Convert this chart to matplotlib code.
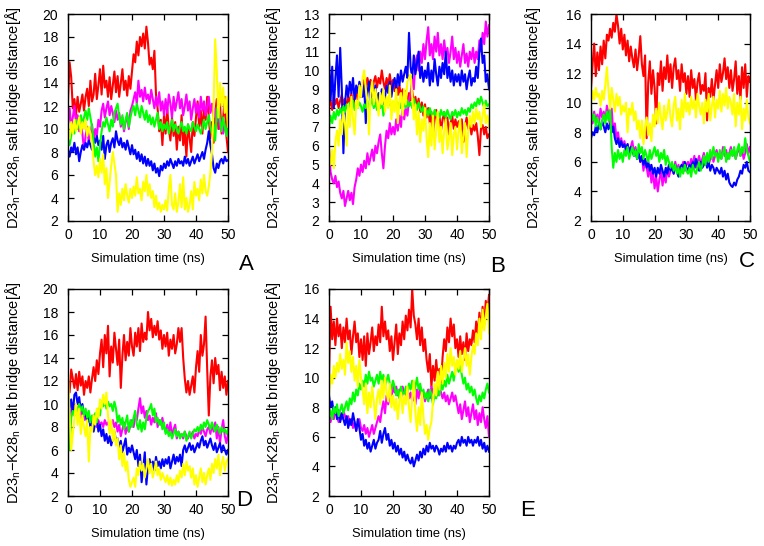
import matplotlib
matplotlib.use("Agg")
import matplotlib.pyplot as plt
import numpy as np

plt.rcParams["font.family"] = ["Liberation Sans", "DejaVu Sans"]
plt.rcParams["mathtext.fontset"] = "custom"
plt.rcParams["mathtext.rm"] = "Liberation Sans"

# Distance series, sampled every 0.5 ns over 0-50 ns

A_RED = [12.5, 15.8, 14.5, 11.8, 12.6, 11.2, 12.8, 11.5, 12.2, 13.0, 11.6,
         12.8, 13.5, 12.0, 14.2, 12.4, 13.0, 14.8, 12.6, 13.8, 15.2,
         13.0, 15.5, 13.6, 14.2, 12.8, 14.5, 12.6, 13.8, 15.0, 13.2,
         14.6, 12.8, 14.0, 15.2, 13.4, 14.2, 12.9, 14.6, 13.5, 15.0,
         16.5, 15.8, 17.6, 16.4, 18.0, 17.2, 18.3, 17.0, 18.9, 17.5,
         15.6, 16.2, 15.2, 16.8, 13.0, 11.8, 9.8, 10.8, 8.6, 11.2,
         9.6, 11.8, 10.0, 9.0, 11.0, 9.4, 10.6, 8.2, 10.2, 9.0,
         11.2, 8.6, 9.8, 7.6, 10.4, 9.2, 8.0, 10.6, 9.4, 11.0,
         12.4, 10.2, 11.6, 9.6, 12.0, 10.8, 12.8, 11.0, 9.2, 10.6,
         8.8, 11.4, 12.6, 10.0, 12.2, 9.6, 11.0, 12.8, 9.4, 8.0]
A_MAGENTA = [10.5, 11.8, 10.2, 11.0, 12.0, 10.4, 11.2, 9.8, 10.6, 9.6, 8.2,
             9.4, 10.2, 8.8, 9.6, 10.4, 9.0, 10.0, 9.4, 10.8, 10.2,
             11.6, 12.2, 11.0, 11.8, 12.4, 11.2, 12.0, 11.4, 10.6, 11.6,
             10.8, 11.4, 10.2, 11.0, 9.8, 10.6, 11.2, 10.0, 11.6, 12.0,
             12.6, 13.2, 12.2, 14.2, 12.8, 13.4, 12.4, 13.6, 12.6, 13.0,
             12.2, 13.4, 12.6, 11.8, 12.8, 12.0, 13.2, 11.6, 12.4, 11.2,
             12.6, 11.4, 13.0, 12.2, 11.0, 12.8, 11.6, 12.4, 13.2, 11.8,
             12.6, 11.2, 12.0, 13.0, 11.6, 12.4, 10.8, 11.8, 12.6, 11.4,
             12.2, 11.0, 12.8, 11.6, 12.4, 11.2, 12.0, 12.8, 11.4, 12.2,
             11.0, 11.8, 10.6, 11.4, 10.0, 10.8, 9.6, 10.4, 9.8, 10.2]
A_GREEN = [9.0, 8.6, 9.4, 10.2, 9.6, 10.8, 10.0, 10.6, 11.2, 10.4, 11.0,
           11.6, 10.8, 11.8, 11.0, 10.2, 8.8, 7.6, 8.4, 7.2, 8.6,
           9.8, 10.6, 10.2, 11.0, 10.4, 9.8, 10.8, 10.2, 11.4, 11.8,
           12.2, 11.0, 10.4, 11.2, 10.0, 10.8, 11.4, 10.2, 11.0, 11.6,
           12.0, 11.2, 12.2, 11.6, 11.0, 12.0, 11.4, 10.8, 11.6, 10.6,
           11.2, 10.4, 11.0, 10.2, 10.8, 11.4, 10.0, 10.6, 9.8, 10.4,
           10.0, 10.6, 9.6, 10.2, 10.8, 9.8, 10.4, 10.0, 9.6, 10.2,
           10.6, 9.8, 10.2, 9.6, 10.4, 10.0, 9.8, 10.6, 10.2, 9.8,
           10.4, 10.0, 9.6, 10.2, 10.8, 10.0, 10.6, 11.2, 10.2, 9.6,
           10.4, 9.0, 11.6, 12.2, 10.8, 9.8, 11.0, 10.2, 9.4, 10.6]
A_BLUE = [8.2, 7.6, 8.4, 8.0, 8.8, 7.8, 8.4, 7.2, 8.0, 8.6, 8.2,
          8.8, 8.4, 9.0, 8.6, 8.2, 9.2, 8.8, 9.4, 8.6, 9.0,
          8.2, 9.4, 7.4, 8.6, 9.0, 8.0, 8.8, 9.2, 8.4, 9.8,
          9.0, 8.6, 9.2, 8.4, 8.8, 8.2, 9.0, 8.4, 7.8, 8.6,
          7.8, 8.2, 7.4, 8.0, 7.2, 7.8, 7.0, 7.6, 6.8, 7.4,
          6.8, 7.2, 6.4, 7.0, 6.2, 6.6, 5.9, 6.8, 6.4, 7.0,
          6.6, 7.2, 6.8, 7.4, 7.0, 6.6, 7.2, 6.8, 7.4, 7.0,
          7.2, 6.8, 7.6, 7.0, 7.4, 6.8, 7.2, 7.6, 7.0, 7.4,
          7.8, 7.2, 7.6, 8.0, 7.4, 8.2, 8.8, 9.8, 8.6, 7.8,
          6.6, 6.2, 7.0, 6.6, 7.2, 7.4, 7.0, 7.6, 7.2, 7.3]
A_YELLOW = [10.0, 9.2, 10.6, 9.6, 10.8, 9.8, 10.4, 11.0, 9.6, 10.6, 10.0,
            10.8, 9.4, 10.2, 9.6, 8.8, 7.2, 6.0, 6.8, 5.8, 7.4,
            6.2, 7.8, 5.2, 6.6, 4.0, 5.4, 6.8, 8.0, 7.0, 6.0,
            2.8, 4.4, 3.4, 4.8, 3.8, 5.2, 4.2, 3.6, 4.8, 4.0,
            5.0, 4.2, 5.8, 4.4, 4.8, 3.8, 5.4, 4.6, 6.0, 4.2,
            5.2, 4.0, 4.6, 3.2, 4.2, 3.0, 3.6, 2.8, 3.4, 3.0,
            3.8, 2.9, 4.8, 6.0, 3.4, 3.0, 4.4, 2.8, 3.6, 5.2,
            3.2, 5.8, 3.0, 4.0, 2.8, 3.4, 4.6, 3.0, 5.4, 4.2,
            4.8, 3.8, 5.6, 4.4, 6.0, 4.6, 4.2, 5.0, 6.2, 8.0,
            12.0, 17.8, 15.0, 11.0, 14.0, 12.0, 13.6, 11.4, 12.8, 10.2]

B_RED = [8.1, 8.4, 7.9, 8.6, 8.2, 8.5, 8.0, 8.4, 8.7, 8.2, 8.5,
         8.0, 8.6, 8.3, 8.8, 8.1, 8.5, 8.9, 8.4, 9.0, 8.6,
         9.2, 9.5, 8.9, 9.6, 9.2, 9.5, 8.8, 9.4, 9.7, 9.1,
         9.6, 9.3, 10.0, 9.4, 9.0, 9.6, 9.2, 9.8, 9.1, 9.5,
         8.9, 9.3, 8.7, 9.2, 8.6, 9.0, 8.4, 8.9, 8.2, 8.8,
         8.4, 8.9, 8.1, 8.6, 8.0, 8.5, 7.8, 8.3, 7.6, 8.2,
         7.5, 8.0, 7.2, 7.8, 6.6, 7.4, 7.9, 7.1, 7.6, 6.8,
         7.4, 7.8, 7.0, 7.5, 6.6, 7.2, 7.6, 6.9, 7.4, 7.0,
         7.3, 6.8, 7.4, 6.2, 7.0, 7.5, 6.9, 7.2, 6.6, 7.1,
         6.8, 7.2, 6.5, 5.5, 6.9, 7.1, 6.6, 7.0, 6.4, 6.6]
B_MAGENTA = [5.8, 4.6, 4.2, 4.0, 4.4, 3.8, 4.1, 3.5, 3.2, 3.6, 2.8,
             3.2, 3.6, 3.1, 3.5, 2.9, 3.8, 4.2, 4.8, 4.4, 5.0,
             4.6, 5.2, 4.8, 5.6, 5.0, 5.4, 5.8, 5.2, 6.0, 5.6,
             6.2, 6.6, 5.6, 4.8, 6.0, 6.8, 6.4, 7.2, 6.6, 7.0,
             6.6, 7.4, 6.8, 7.6, 7.0, 8.2, 7.4, 8.0, 7.6, 8.4,
             8.8, 9.6, 9.0, 10.4, 10.8, 10.0, 11.0, 10.4, 11.4, 10.6,
             11.6, 12.3, 10.8, 11.4, 10.6, 11.8, 11.0, 12.0, 10.8, 11.4,
             10.6, 11.6, 10.8, 11.2, 10.4, 11.0, 11.8, 10.6, 11.2, 10.4,
             11.0, 10.2, 10.8, 11.4, 10.4, 10.9, 10.2, 11.0, 10.6, 11.2,
             10.4, 11.0, 10.6, 11.6, 11.0, 12.0, 11.4, 12.6, 11.8, 12.4]
B_GREEN = [7.0, 7.6, 7.2, 7.8, 7.4, 7.9, 7.6, 8.0, 7.7, 8.1, 7.8,
           8.2, 7.9, 8.3, 8.0, 8.4, 7.9, 8.2, 8.0, 8.3, 8.1,
           7.8, 8.2, 8.0, 8.4, 7.9, 8.2, 8.5, 8.0, 8.3, 7.9,
           8.2, 8.0, 8.4, 7.6, 8.2, 8.5, 8.1, 8.4, 8.0, 8.3,
           8.1, 8.4, 7.9, 8.3, 8.0, 8.5, 8.2, 8.0, 8.4, 8.1,
           8.3, 8.0, 8.5, 8.2, 7.9, 8.3, 8.0, 7.8, 8.1, 7.7,
           7.9, 7.6, 8.0, 7.7, 7.5, 7.9, 7.6, 7.8, 7.5, 7.9,
           7.6, 7.8, 7.5, 7.9, 7.6, 7.4, 7.8, 7.6, 7.9, 7.5,
           7.8, 7.6, 8.0, 7.7, 7.9, 7.6, 8.0, 7.8, 8.2, 8.0,
           8.3, 8.1, 8.5, 8.2, 8.6, 8.3, 8.0, 8.4, 8.1, 8.2]
B_BLUE = [10.6, 8.4, 10.2, 8.0, 9.6, 10.8, 8.6, 11.2, 9.0, 5.6, 8.2,
          9.2, 8.6, 9.4, 8.8, 9.6, 8.4, 9.2, 8.8, 9.4, 9.0,
          8.6, 9.2, 7.2, 8.8, 9.4, 8.4, 9.0, 8.6, 9.2, 8.2,
          8.8, 8.4, 9.0, 8.2, 8.6, 9.2, 8.8, 9.4, 8.6, 9.2,
          9.6, 9.0, 9.8, 9.2, 10.0, 9.4, 9.8, 10.2, 9.6, 12.0,
          10.2, 9.6, 10.8, 9.8, 10.4, 11.0, 9.6, 10.2, 9.4, 10.0,
          9.6, 10.4, 9.2, 10.0, 9.4, 10.6, 9.8, 9.2, 10.2, 9.6,
          10.4, 9.8, 11.0, 9.6, 10.2, 9.4, 10.0, 9.2, 9.8, 9.4,
          9.8, 9.2, 10.0, 9.4, 9.8, 9.0, 9.6, 10.0, 9.2, 9.6,
          9.4, 10.2, 9.6, 11.0, 11.7, 10.4, 10.8, 9.4, 9.8, 9.0]
B_YELLOW = [5.4, 5.0, 5.8, 4.8, 6.2, 6.8, 6.0, 7.4, 6.6, 7.8, 7.2,
            6.0, 8.2, 7.0, 8.6, 7.4, 6.6, 8.4, 8.0, 9.2, 8.6,
            9.6, 10.0, 9.0, 8.4, 6.6, 8.8, 9.4, 8.2, 9.0, 8.4,
            7.6, 8.8, 8.2, 9.0, 7.8, 8.6, 8.0, 9.2, 7.4, 8.4,
            7.8, 9.0, 7.2, 8.4, 8.8, 7.6, 9.0, 8.2, 9.4, 9.6,
            9.8, 8.6, 7.4, 8.2, 6.6, 7.8, 6.2, 7.4, 6.8, 8.0,
            6.4, 5.4, 7.2, 6.0, 7.6, 5.8, 6.8, 7.8, 6.2, 7.0,
            5.6, 6.8, 7.4, 5.8, 6.4, 7.2, 5.5, 6.6, 7.0, 5.8,
            6.8, 7.4, 5.6, 6.6, 7.2, 5.4, 6.8, 7.6, 7.0, 7.8,
            7.2, 8.0, 7.4, 7.8, 7.0, 7.6, 8.2, 7.2, 7.6, 7.0]

C_RED = [11.0, 12.6, 14.0, 11.8, 13.4, 12.2, 13.8, 12.6, 14.2, 13.0, 14.6,
         14.2, 15.0, 14.4, 15.4, 14.8, 16.0, 15.2, 14.0, 15.0, 13.6,
         14.6, 13.2, 14.2, 12.8, 13.8, 13.0, 12.4, 13.6, 12.2, 13.2,
         14.5, 12.6, 11.8, 13.2, 7.6, 11.4, 12.8, 10.6, 12.2, 11.0,
         8.6, 12.0, 11.2, 12.8, 10.8, 12.4, 11.6, 13.2, 11.4, 12.6,
         11.0, 12.4, 13.0, 11.6, 12.2, 10.8, 12.6, 11.4, 12.0, 10.6,
         11.8, 10.4, 12.2, 11.0, 11.6, 10.2, 11.4, 12.0, 10.6, 11.2,
         10.8, 12.0, 8.8, 11.0, 10.4, 11.6, 10.2, 11.2, 12.2, 11.0,
         12.6, 11.4, 12.0, 13.0, 11.6, 12.4, 11.0, 12.2, 10.8, 11.6,
         12.8, 10.6, 11.8, 10.2, 12.4, 11.0, 12.6, 10.4, 11.8, 11.4]
C_MAGENTA = [9.0, 8.6, 9.4, 8.8, 9.2, 8.6, 9.6, 9.0, 9.4, 8.8, 9.8,
             9.2, 8.4, 9.6, 8.0, 8.6, 7.6, 8.0, 7.2, 7.6, 7.0,
             7.4, 6.8, 7.2, 6.6, 7.0, 7.4, 6.6, 7.0, 6.2, 6.6,
             6.0, 6.4, 5.4, 6.2, 5.6, 5.0, 5.8, 4.6, 5.4, 4.2,
             5.0, 4.0, 4.8, 5.4, 4.4, 5.2, 4.6, 5.6, 5.0, 5.4,
             5.8, 5.2, 6.0, 5.4, 5.8, 5.2, 5.6, 6.0, 5.4, 5.8,
             6.0, 5.6, 6.2, 5.8, 6.4, 5.6, 6.0, 6.4, 5.8, 6.2,
             6.6, 6.0, 6.4, 5.8, 6.2, 6.6, 6.0, 6.4, 6.8, 6.2,
             6.6, 6.2, 7.0, 6.4, 6.8, 6.2, 6.6, 7.0, 6.4, 6.8,
             6.2, 6.6, 7.0, 6.4, 6.8, 6.2, 6.6, 7.2, 6.6, 7.0]
C_GREEN = [9.6, 8.8, 9.2, 8.4, 9.0, 8.6, 8.2, 8.8, 9.2, 8.6, 9.4,
           8.8, 9.6, 7.0, 5.6, 6.6, 6.0, 6.8, 6.2, 6.6, 6.0,
           6.8, 6.4, 7.0, 6.2, 6.6, 7.0, 6.4, 6.8, 6.2, 7.2,
           6.6, 7.0, 6.2, 6.8, 6.4, 6.0, 6.8, 6.2, 6.6, 7.0,
           6.4, 6.8, 6.0, 6.6, 6.2, 6.8, 5.8, 6.4, 6.0, 5.6,
           6.0, 5.4, 5.8, 5.2, 5.6, 5.0, 5.6, 5.2, 5.8, 5.4,
           5.2, 5.6, 5.0, 5.8, 5.4, 5.2, 5.6, 6.0, 5.4, 5.8,
           6.4, 5.8, 6.6, 6.0, 6.8, 6.2, 7.0, 6.4, 6.6, 6.0,
           6.8, 6.2, 6.6, 7.0, 6.0, 6.6, 6.2, 6.8, 6.4, 7.0,
           6.2, 6.8, 7.2, 6.4, 7.0, 6.6, 7.6, 6.8, 6.4, 6.0]
C_BLUE = [7.6, 8.0, 7.8, 8.4, 8.0, 8.6, 8.2, 8.8, 8.4, 8.0, 8.6,
          8.2, 8.6, 8.0, 8.4, 7.6, 7.2, 7.6, 7.0, 7.4, 7.0,
          7.2, 6.8, 7.2, 6.6, 7.0, 6.8, 6.4, 6.8, 6.2, 6.6,
          6.0, 6.4, 5.8, 6.2, 5.6, 6.0, 5.4, 5.8, 5.2, 5.6,
          5.0, 5.6, 5.2, 5.8, 5.4, 5.0, 5.6, 5.2, 5.8, 5.4,
          5.6, 5.2, 5.8, 5.4, 5.0, 5.6, 5.8, 5.4, 6.0, 5.6,
          5.4, 5.8, 5.6, 6.0, 5.6, 6.2, 5.8, 5.4, 6.0, 5.6,
          5.8, 6.2, 5.6, 6.0, 5.4, 5.8, 5.6, 5.2, 5.6, 5.4,
          5.2, 5.6, 5.0, 5.4, 4.8, 5.2, 4.6, 4.4, 4.3, 4.6,
          4.4, 4.8, 5.0, 5.4, 5.2, 5.8, 5.6, 6.0, 5.4, 5.3]
C_YELLOW = [10.0, 10.8, 10.2, 11.0, 10.4, 10.6, 9.8, 10.8, 10.2, 11.2, 12.4,
            10.8, 9.6, 11.0, 10.2, 9.4, 10.6, 9.8, 10.4, 9.2, 9.8,
            9.4, 10.0, 8.0, 9.6, 9.2, 10.0, 8.8, 9.4, 8.2, 8.8,
            7.6, 8.8, 7.2, 8.4, 9.0, 7.8, 8.6, 7.4, 9.2, 8.4,
            9.6, 8.6, 10.0, 9.0, 8.2, 9.8, 8.8, 9.4, 10.2, 9.0,
            8.4, 9.8, 10.4, 8.8, 9.6, 8.2, 10.2, 9.0, 10.6, 9.4,
            10.0, 9.2, 10.4, 9.6, 10.2, 9.0, 10.6, 9.8, 9.2, 10.0,
            8.6, 10.2, 9.4, 10.6, 8.8, 9.8, 10.4, 9.0, 10.2, 9.6,
            10.8, 9.4, 10.6, 9.8, 11.0, 9.6, 10.4, 10.0, 9.2, 10.6,
            8.4, 10.0, 9.2, 10.4, 8.2, 9.6, 8.8, 10.2, 9.0, 8.6]

D_RED = [12.0, 11.0, 13.0, 12.2, 11.4, 12.6, 11.2, 12.8, 11.6, 12.4, 10.8,
         12.0, 11.4, 12.4, 11.0, 12.2, 13.2, 12.0, 13.8, 12.6, 14.4,
         15.6, 13.2, 16.0, 14.4, 16.8, 12.4, 15.0, 13.6, 16.2, 14.8,
         13.4, 15.6, 11.4, 14.2, 16.0, 13.8, 15.4, 14.2, 16.6, 15.0,
         14.2, 16.2, 15.0, 16.6, 14.6, 17.0, 15.4, 16.2, 15.6, 18.0,
         16.4, 17.4, 15.8, 16.8, 16.0, 17.2, 15.6, 16.4, 14.8, 16.0,
         15.0, 16.2, 14.2, 15.6, 14.8, 16.0, 14.4, 15.2, 16.6, 15.4,
         16.6, 14.0, 12.2, 11.0, 12.0, 10.8, 11.6, 12.4, 11.0, 13.2,
         14.6, 12.8, 16.0, 14.2, 15.2, 17.6, 13.0, 9.0, 12.4, 13.8,
         11.8, 14.0, 12.6, 13.4, 11.2, 12.8, 11.4, 12.4, 10.8, 12.0]
D_MAGENTA = [9.0, 8.6, 9.4, 9.8, 9.0, 10.0, 9.2, 9.6, 8.8, 9.4, 8.6,
             9.0, 8.4, 8.8, 8.2, 8.6, 9.0, 8.4, 8.0, 8.6, 8.2,
             8.4, 8.0, 8.6, 8.2, 8.4, 7.8, 8.2, 8.6, 8.0, 8.4,
             7.6, 8.2, 7.2, 7.8, 8.4, 7.4, 8.0, 7.6, 8.2, 8.6,
             8.0, 9.0, 8.6, 9.6, 10.5, 9.2, 9.8, 8.8, 9.4, 8.6,
             9.0, 8.2, 8.8, 8.4, 9.2, 8.0, 8.6, 8.2, 8.8, 8.0,
             7.6, 8.2, 7.4, 8.4, 7.2, 7.8, 8.2, 7.0, 7.6, 7.2,
             7.4, 7.0, 7.6, 7.2, 7.0, 7.4, 7.2, 7.6, 7.0, 7.4,
             7.2, 7.8, 7.4, 8.0, 7.6, 7.2, 7.8, 8.0, 7.4, 8.2,
             7.6, 8.4, 7.0, 8.0, 6.6, 7.8, 8.6, 7.2, 6.6, 7.4]
D_GREEN = [8.5, 6.0, 8.8, 9.4, 9.0, 9.8, 9.2, 10.0, 9.4, 9.8, 9.0,
           9.6, 8.8, 9.4, 8.4, 9.0, 8.6, 9.2, 8.4, 9.6, 9.0,
           10.2, 9.8, 10.3, 9.6, 10.2, 9.8, 10.0, 9.4, 10.2, 9.6,
           8.4, 9.0, 8.2, 8.8, 7.8, 8.4, 9.0, 7.6, 8.6, 8.0,
           8.8, 9.4, 8.2, 7.8, 8.6, 7.6, 8.4, 7.8, 8.8, 9.4,
           9.6, 10.0, 9.0, 9.6, 8.4, 8.8, 8.2, 8.6, 7.8, 8.4,
           7.4, 7.8, 7.2, 7.6, 7.0, 7.4, 7.8, 7.2, 7.6, 7.0,
           7.4, 7.2, 7.6, 6.8, 7.2, 7.6, 7.0, 7.4, 7.8, 7.6,
           8.0, 7.6, 8.2, 7.8, 8.4, 8.0, 8.6, 8.2, 7.8, 8.4,
           8.0, 7.6, 8.2, 7.8, 7.4, 8.0, 7.6, 7.8, 7.4, 7.8]
D_BLUE = [8.0, 9.6, 10.4, 9.2, 10.8, 11.0, 10.0, 10.6, 9.4, 10.0, 9.0,
          9.2, 8.4, 9.0, 8.0, 8.6, 7.6, 8.4, 8.8, 7.6, 8.2,
          7.2, 7.8, 6.8, 7.4, 6.6, 7.2, 6.4, 7.0, 7.6, 6.8,
          7.0, 6.2, 6.8, 5.8, 6.4, 7.0, 5.6, 6.2, 5.8, 6.4,
          5.8, 5.2, 6.0, 4.6, 5.6, 3.2, 4.4, 5.8, 3.0, 4.6,
          5.2, 4.4, 5.0, 4.2, 5.4, 4.6, 5.0, 4.4, 5.2, 4.6,
          5.2, 4.8, 5.4, 4.4, 5.0, 5.6, 4.8, 5.4, 5.0, 5.6,
          4.6, 6.0, 6.4, 5.8, 6.2, 6.6, 6.0, 6.4, 5.8, 6.2,
          6.6, 6.2, 6.8, 7.2, 6.4, 6.8, 6.2, 6.6, 7.0, 6.4,
          6.0, 6.6, 5.8, 6.2, 6.6, 5.8, 6.4, 6.0, 5.6, 6.0]
D_YELLOW = [12.8, 9.0, 6.0, 7.4, 8.8, 10.0, 8.2, 9.6, 7.4, 9.0, 8.0,
            7.2, 8.6, 5.0, 8.0, 7.6, 9.0, 8.2, 9.6, 8.8, 10.4,
            9.6, 10.8, 10.0, 11.0, 9.0, 7.4, 8.6, 6.8, 7.8, 6.4,
            7.0, 5.2, 6.4, 4.6, 5.8, 4.2, 5.0, 3.4, 2.8, 3.2,
            3.6, 2.8, 4.4, 3.8, 5.0, 4.2, 4.8, 3.6, 4.4, 5.2,
            4.0, 4.8, 3.6, 4.2, 5.0, 3.8, 4.4, 3.4, 4.0, 3.6,
            3.2, 3.8, 3.0, 3.6, 2.9, 3.4, 3.0, 3.8, 3.2, 4.2,
            3.6, 4.8, 3.8, 5.0, 4.2, 4.6, 3.6, 4.4, 3.0, 3.8,
            2.8, 3.6, 4.4, 3.2, 4.0, 3.0, 3.8, 4.4, 3.4, 4.8,
            4.0, 5.2, 4.4, 5.6, 3.8, 4.8, 5.4, 4.2, 5.0, 5.2]

E_RED = [10.2, 14.8, 12.6, 13.8, 12.2, 14.0, 12.8, 13.6, 12.0, 13.4, 12.4,
         14.0, 12.6, 13.2, 11.6, 12.8, 13.8, 12.4, 13.0, 11.4, 12.6,
         11.2, 12.8, 10.8, 13.0, 11.6, 12.4, 13.4, 11.8, 12.8, 12.2,
         13.6, 12.4, 14.8, 12.8, 13.8, 12.6, 13.2, 11.8, 12.8, 11.2,
         12.4, 13.6, 11.6, 13.0, 12.2, 13.8, 12.6, 14.2, 13.2, 14.6,
         13.4, 16.0, 14.2, 13.6, 12.6, 14.0, 12.2, 13.4, 11.8, 12.6,
         11.2, 10.4, 11.6, 9.4, 10.8, 9.8, 11.2, 10.0, 10.6, 9.6,
         11.4, 12.6, 11.8, 13.4, 12.4, 14.0, 12.8, 13.6, 12.0, 12.6,
         11.4, 12.8, 11.6, 12.4, 11.2, 13.0, 11.8, 12.6, 12.2, 13.2,
         12.4, 13.8, 12.8, 14.4, 13.2, 14.8, 13.6, 15.2, 14.4, 15.6]
E_MAGENTA = [7.4, 7.0, 7.6, 7.2, 7.8, 7.4, 7.0, 7.6, 7.2, 7.8, 7.4,
             7.0, 7.4, 6.8, 7.2, 6.6, 7.0, 6.4, 6.8, 7.2, 6.6,
             6.4, 6.8, 6.2, 6.6, 6.0, 6.4, 6.8, 6.2, 6.6, 7.0,
             7.4, 7.0, 7.8, 8.4, 7.6, 8.8, 8.2, 9.0, 8.6, 9.4,
             9.0, 9.4, 8.8, 9.2, 8.6, 9.4, 9.0, 8.8, 9.2, 8.6,
             9.0, 8.4, 8.8, 8.2, 9.2, 8.6, 9.4, 8.8, 9.0, 8.4,
             8.8, 9.2, 8.6, 9.4, 9.0, 8.6, 9.2, 8.8, 9.4, 9.0,
             8.6, 9.0, 8.4, 8.8, 8.2, 8.6, 9.0, 8.4, 8.8, 8.2,
             7.6, 8.2, 7.2, 7.8, 8.4, 7.4, 8.0, 7.0, 7.6, 8.2,
             7.2, 7.8, 6.8, 7.6, 7.0, 8.0, 7.2, 6.6, 7.4, 6.0]
E_GREEN = [7.4, 7.8, 7.2, 8.0, 7.6, 8.2, 7.4, 7.8, 8.2, 7.6, 8.0,
           8.4, 7.8, 8.6, 8.2, 9.0, 8.4, 9.2, 8.8, 9.6, 9.2,
           9.8, 9.4, 10.2, 9.6, 10.4, 9.8, 10.0, 9.4, 9.8, 10.2,
           9.6, 10.4, 9.8, 10.2, 9.4, 9.8, 10.2, 9.6, 9.2, 9.8,
           9.4, 8.8, 9.2, 8.6, 9.4, 9.0, 8.8, 9.4, 9.0, 9.6,
           9.2, 9.8, 8.8, 9.4, 10.0, 9.2, 9.6, 8.8, 9.2, 8.6,
           9.0, 8.4, 9.2, 8.8, 8.2, 9.0, 8.6, 9.4, 8.8, 9.6,
           9.2, 9.8, 9.4, 10.2, 9.6, 10.0, 10.4, 9.8, 10.6, 11.0,
           10.4, 10.8, 10.2, 9.6, 10.0, 9.2, 9.6, 9.0, 9.4, 8.8,
           9.2, 8.6, 8.2, 8.8, 8.4, 9.0, 8.6, 9.2, 9.6, 9.0]
E_BLUE = [8.8, 8.0, 8.4, 7.6, 8.0, 7.2, 7.8, 7.0, 7.6, 7.2, 6.8,
          7.4, 6.6, 7.2, 6.8, 7.6, 7.0, 6.4, 7.2, 6.6, 5.8,
          6.2, 5.4, 5.8, 5.2, 5.6, 5.0, 5.4, 5.8, 5.2, 5.6,
          5.8, 6.4, 5.6, 6.2, 6.6, 5.8, 6.2, 5.4, 5.8, 5.2,
          5.6, 5.0, 5.4, 4.8, 5.2, 4.6, 5.0, 4.4, 4.8, 4.4,
          4.2, 4.6, 4.0, 4.4, 4.8, 4.4, 5.0, 4.6, 5.2, 4.8,
          5.4, 5.0, 5.6, 5.2, 5.4, 5.0, 5.4, 5.2, 4.8, 5.2,
          5.0, 5.4, 5.0, 5.6, 5.2, 5.4, 5.0, 5.4, 5.2, 5.6,
          5.8, 5.4, 6.0, 5.6, 5.8, 5.4, 6.0, 5.6, 5.8, 5.4,
          5.8, 5.6, 6.0, 5.4, 5.8, 5.2, 5.6, 5.0, 5.4, 5.0]
E_YELLOW = [9.0, 10.2, 9.6, 10.8, 10.0, 11.0, 10.4, 11.6, 10.6, 11.2, 10.2,
            12.4, 11.0, 11.8, 10.4, 11.4, 9.8, 10.8, 9.4, 11.2, 10.0,
            9.2, 8.2, 9.6, 7.6, 9.0, 8.0, 9.4, 8.4, 7.2, 8.6,
            9.2, 8.2, 9.8, 8.6, 10.0, 9.0, 8.4, 9.6, 8.0, 8.8,
            7.8, 8.6, 7.2, 8.4, 9.0, 7.6, 8.8, 8.2, 9.4, 8.0,
            7.0, 8.6, 9.8, 7.6, 6.4, 8.0, 6.8, 9.0, 7.4, 6.2,
            6.8, 5.8, 6.6, 7.0, 8.4, 9.6, 8.8, 10.4, 9.2, 10.8,
            9.6, 11.0, 10.0, 11.6, 10.4, 12.0, 10.8, 11.4, 10.2, 11.2,
            10.6, 11.8, 10.4, 11.2, 12.0, 10.8, 11.6, 10.2, 11.4, 12.2,
            11.6, 13.0, 12.2, 14.0, 12.6, 14.6, 13.2, 14.2, 15.0, 13.0]

COLORS = ["#ff0000", "#ff00ff", "#0000ff", "#00ff00", "#ffff00"]

# name, series (drawn in colour order), y range, y step,
# axes box in pixels, y-label centre x in pixels, letter position
PANELS = [
    ("A", [A_RED, A_MAGENTA, A_BLUE, A_GREEN, A_YELLOW], (2, 20), 2, (68, 14, 228, 221), 13, (246, 264)),
    ("B", [B_RED, B_MAGENTA, B_BLUE, B_GREEN, B_YELLOW], (2, 13), 1, (329, 14, 489, 221), 273, (498, 266)),
    ("C", [C_RED, C_MAGENTA, C_BLUE, C_GREEN, C_YELLOW], (2, 16), 2, (591, 14, 750, 221), 533, (747, 261)),
    ("D", [D_RED, D_MAGENTA, D_BLUE, D_GREEN, D_YELLOW], (2, 20), 2, (68, 289, 228, 496), 13, (244, 501)),
    ("E", [E_RED, E_MAGENTA, E_BLUE, E_GREEN, E_YELLOW], (2, 16), 2, (329, 289, 489, 496), 273, (528, 511)),
]

W, H = 764, 546
YLABEL = r"D23$_\mathregular{n}$$-$K28$_\mathregular{n}$ salt bridge distance[Å]"

fig = plt.figure(figsize=(W / 100, H / 100), dpi=100)

for name, series, (ymin, ymax), ystep, (x0, y0, x1, y1), ylx, (lx, ly) in PANELS:
    ax = fig.add_axes([x0 / W, 1 - y1 / H, (x1 - x0) / W, (y1 - y0) / H])
    for vals, color in zip(series, COLORS):
        t = np.linspace(0, 50, len(vals))
        ax.plot(t, vals, color=color, linewidth=1.5)
    ax.set_xlim(0, 50)
    ax.set_ylim(ymin, ymax)
    ax.set_xticks(np.arange(0, 51, 10))
    ax.set_yticks(np.arange(ymin, ymax + 0.1, ystep))
    ax.tick_params(direction="in", top=True, right=True, length=4, width=0.9,
                   labelsize=10, pad=5)
    ax.tick_params(axis="y", pad=7)
    for sp in ax.spines.values():
        sp.set_linewidth(1.0)
    ax.set_xlabel("Simulation time (ns)", fontsize=9.3, va="center")
    ax.xaxis.set_label_coords(0.5, -0.185)
    ax.set_ylabel(YLABEL, fontsize=10.5, va="center")
    ax.yaxis.set_label_coords((ylx - x0) / (x1 - x0), 0.5)
    fig.text(lx / W, 1 - ly / H, name, fontsize=16, ha="center", va="center")

fig.savefig("out.png", dpi=100)
